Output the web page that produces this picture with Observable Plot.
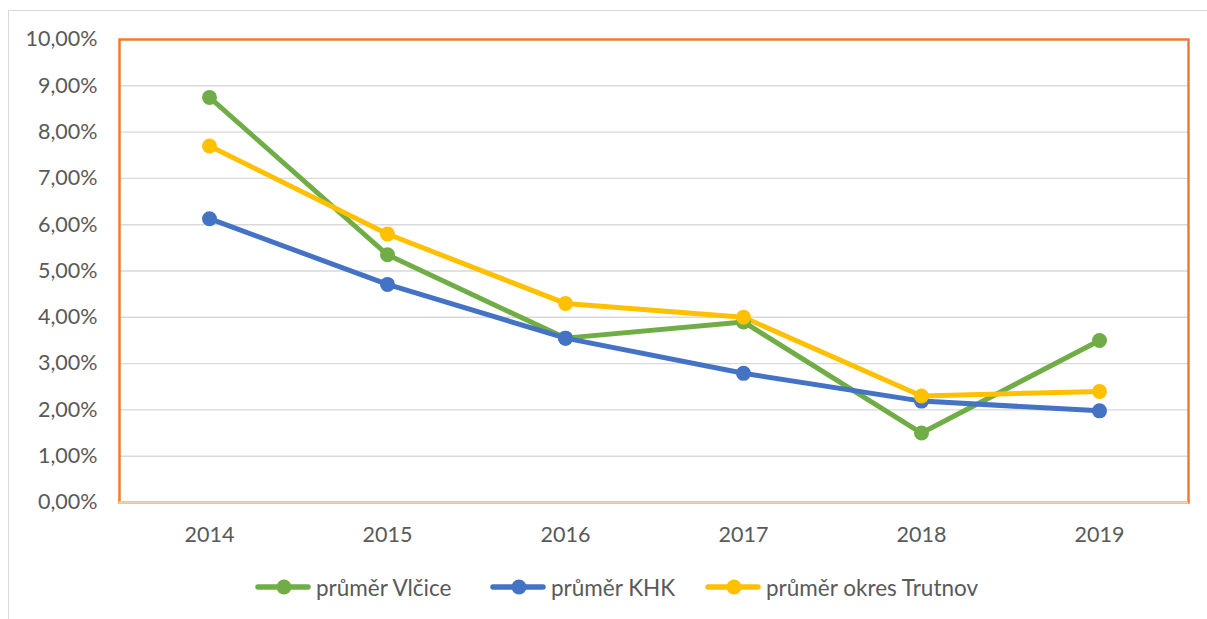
<!DOCTYPE html>
<html>
<head>
<meta charset="utf-8">
<script src="https://cdn.jsdelivr.net/npm/d3@7"></script>
<script src="https://cdn.jsdelivr.net/npm/@observablehq/plot@0.6"></script>
<style>
  html, body { margin: 0; padding: 0; background: #fff; }
  #wrap { position: relative; width: 1207px; height: 619px; overflow: hidden; font-family: Lato, "Open Sans", sans-serif; }
  #border { position: absolute; left: 8px; top: 10px; width: 1210px; height: 620px; border: 1px solid #d9d9d9; box-sizing: border-box; }
  #chart { position: absolute; left: 0; top: 0; }
  #legend { position: absolute; left: 0; top: 572px; width: 1207px; height: 30px; }
  .item { position: absolute; top: 0; height: 30px; display: flex; align-items: center; color: #595959; font-size: 22.5px; white-space: nowrap; }
  .item svg { margin-right: 5px; }
</style>
</head>
<body>
<div id="wrap">
  <div id="border"></div>
  <div id="chart"></div>
  <div id="legend"></div>
</div>
<script>
const years = ["2014", "2015", "2016", "2017", "2018", "2019"];
const seriesNames = ["průměr Vlčice", "průměr KHK", "průměr okres Trutnov"];
const seriesColors = ["#70AD47", "#4472C4", "#FFC000"];
const vlcice  = [0.0875, 0.0535, 0.0355, 0.0390, 0.0150, 0.0350];
const khk     = [0.0613, 0.0471, 0.0355, 0.0279, 0.0219, 0.0198];
const trutnov = [0.0770, 0.0580, 0.0430, 0.0400, 0.0230, 0.0240];
const yTicks = [0, 0.01, 0.02, 0.03, 0.04, 0.05, 0.06, 0.07, 0.08, 0.09, 0.10];

const seriesValues = [vlcice, khk, trutnov];
const data = [];
seriesNames.forEach((s, i) => years.forEach((y, j) => data.push({series: s, year: y, value: seriesValues[i][j]})));

const fmt = v => d3.format(".2%")(v).replace(".", ",");
const FONT = "Lato, 'Open Sans', sans-serif";

const plot = Plot.plot({
  width: 1207,
  height: 545,
  marginLeft: 119,
  marginRight: 19,
  marginTop: 39,
  marginBottom: 43,
  style: { fontFamily: FONT, color: "#595959", background: "transparent", overflow: "visible" },
  x: { type: "point", domain: years, padding: 0.5, label: null },
  y: { domain: [0, 0.10], label: null },
  color: { domain: seriesNames, range: seriesColors },
  marks: [
    Plot.ruleY(yTicks.slice(1, -1), { stroke: "#D9D9D9", strokeWidth: 1.4 }),
    Plot.frame({ stroke: "#ED7D31", strokeWidth: 2.5 }),
    Plot.ruleY([0], { stroke: "#F5CDB0", strokeWidth: 2.5 }),
    Plot.axisY(yTicks, { tickFormat: fmt, tickSize: 0, tickPadding: 22, fontSize: 21.5, fontFamily: FONT, fill: "#595959", label: null }),
    Plot.axisX(years, { tickSize: 0, tickPadding: 24, fontSize: 21.5, fontFamily: FONT, fill: "#595959", label: null }),
    Plot.line(data, { x: "year", y: "value", z: "series", stroke: "series", strokeWidth: 5, strokeLinejoin: "round", strokeLinecap: "round" }),
    Plot.dot(data, { x: "year", y: "value", fill: "series", r: 7.5 })
  ]
});
document.getElementById("chart").appendChild(plot);

const legendLeft = [255, 490, 705];
const legend = document.getElementById("legend");
seriesNames.forEach((name, i) => {
  const item = document.createElement("div");
  item.className = "item";
  item.style.left = legendLeft[i] + "px";
  item.innerHTML = `<svg width="56" height="30"><line x1="3" y1="15" x2="53" y2="15" stroke="${seriesColors[i]}" stroke-width="5.5" stroke-linecap="round"/><circle cx="29" cy="15" r="7.5" fill="${seriesColors[i]}"/></svg><span>${name}</span>`;
  legend.appendChild(item);
});
</script>
</body>
</html>
